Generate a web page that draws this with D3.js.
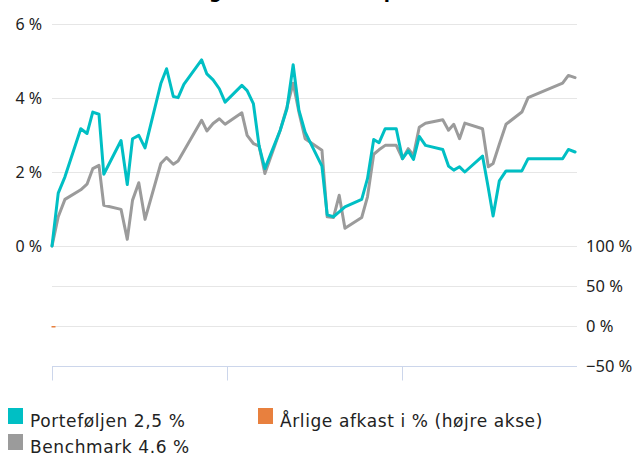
<!DOCTYPE html>
<html>
<head>
<meta charset="utf-8">
<script src="https://cdn.jsdelivr.net/npm/d3@7"></script>
<style>
  html, body { margin: 0; padding: 0; background: #fff; }
  svg { display: block; }
</style>
</head>
<body>
<svg id="chart" width="635" height="455"></svg>
<script>
// ---- data ----
const titleText = "Udvikling i afkast siden opstart";
const dates = [
  "2021-01-01","2021-01-14","2021-01-28","2021-03-02","2021-03-15","2021-03-27","2021-04-09","2021-04-19",
  "2021-05-25","2021-06-07","2021-06-18","2021-07-01","2021-07-14","2021-08-16","2021-08-28","2021-09-11",
  "2021-09-21","2021-10-03","2021-11-09","2021-11-20","2021-12-03","2021-12-16","2021-12-28","2022-02-01",
  "2022-02-12","2022-02-25","2022-03-09","2022-03-21","2022-04-22","2022-05-06","2022-05-19","2022-05-31",
  "2022-06-13","2022-07-18","2022-07-29","2022-08-11","2022-08-23","2022-09-04","2022-10-09","2022-10-21",
  "2022-11-03","2022-11-14","2022-11-27","2022-12-20","2023-01-02","2023-01-14","2023-01-25","2023-02-06",
  "2023-02-19","2023-03-27","2023-04-08","2023-04-19","2023-05-01","2023-05-12","2023-06-18","2023-06-30",
  "2023-07-10","2023-07-23","2023-08-06","2023-09-08","2023-09-21","2023-12-02","2023-12-14","2023-12-28"
];
const portfolio = [
  0, 1.43, 1.87, 3.17, 3.04, 3.62, 3.56, 1.94,
  2.85, 1.66, 2.90, 2.99, 2.65, 4.39, 4.79, 4.04,
  4.01, 4.37, 5.03, 4.65, 4.49, 4.25, 3.89, 4.34,
  4.20, 3.85, 2.70, 2.09, 3.13, 3.71, 4.90, 3.67,
  3.08, 2.16, 0.84, 0.79, 0.92, 1.06, 1.26, 1.82,
  2.88, 2.79, 3.17, 3.17, 2.36, 2.57, 2.34, 2.96,
  2.72, 2.61, 2.16, 2.05, 2.14, 2.00, 2.43, 1.57,
  0.81, 1.76, 2.03, 2.03, 2.36, 2.36, 2.61, 2.54
];
const benchmark = [
  0, 0.79, 1.26, 1.52, 1.67, 2.09, 2.18, 1.10,
  0.99, 0.18, 1.24, 1.71, 0.72, 2.23, 2.39, 2.21,
  2.30, 2.57, 3.40, 3.11, 3.31, 3.44, 3.29, 3.60,
  2.99, 2.77, 2.70, 1.96, 3.13, 3.75, 4.40, 3.62,
  2.90, 2.59, 0.79, 0.77, 1.37, 0.48, 0.77, 1.33,
  2.48, 2.60, 2.72, 2.72, 2.36, 2.63, 2.45, 3.21,
  3.32, 3.41, 3.13, 3.29, 2.90, 3.32, 3.17, 2.14,
  2.23, 2.75, 3.29, 3.62, 4.01, 4.40, 4.61, 4.55
];
const annualDates = ["2021-01-01"];
const annualReturns = [-1.6];
const leftTicks = [0, 2, 4, 6];
const rightTicks = [-50, 0, 50, 100];
const xTickDates = ["2021-01-01", "2022-01-01", "2023-01-01"];
const xDomain = ["2021-01-01", "2024-01-01"];
const legendItems = [
  { label: "Porteføljen 2,5 %", color: "#00bfc4" },
  { label: "Årlige afkast i % (højre akse)", color: "#e8803e" },
  { label: "Benchmark 4.6 %", color: "#9b9b9b" }
];

// ---- chart ----
const parse = d3.utcParse("%Y-%m-%d");
const svg = d3.select("#chart");
const left = 52, right = 577;
const x = d3.scaleUtc().domain(xDomain.map(parse)).range([left, right]);
const yL = d3.scaleLinear().domain([0, 6]).range([246, 24]);
const yR = d3.scaleLinear().domain([-50, 100]).range([366, 246]);

const labelFont = "'Noto Sans', 'Open Sans', sans-serif";

// title (mostly cut off at top)
svg.append("text")
  .attr("x", 286).attr("y", -2)
  .attr("text-anchor", "middle")
  .style("font-family", "'DejaVu Sans', Verdana, sans-serif")
  .style("font-weight", "bold")
  .style("font-size", "18px")
  .attr("fill", "#000")
  .text(titleText);

// left grid + labels
const gL = svg.append("g");
gL.selectAll("line").data(leftTicks).join("line")
  .attr("x1", left).attr("x2", right)
  .attr("y1", d => Math.round(yL(d)) + 0.5).attr("y2", d => Math.round(yL(d)) + 0.5)
  .attr("stroke", "#e6e6e6").attr("stroke-width", 1);
gL.selectAll("text").data(leftTicks).join("text")
  .attr("x", 42).attr("y", d => yL(d)).attr("dy", "0.35em")
  .attr("text-anchor", "end")
  .style("font-family", labelFont).style("font-size", "16px")
  .attr("fill", "#222")
  .text(d => d + " %");

// right grid + labels
const gR = svg.append("g");
gR.selectAll("line").data(rightTicks.filter(d => d > -50)).join("line")
  .attr("x1", left).attr("x2", right)
  .attr("y1", d => Math.round(yR(d)) + 0.5).attr("y2", d => Math.round(yR(d)) + 0.5)
  .attr("stroke", "#e6e6e6").attr("stroke-width", 1);
gR.selectAll("text").data(rightTicks).join("text")
  .attr("x", 586).attr("y", d => yR(d)).attr("dy", "0.35em")
  .attr("text-anchor", "start")
  .style("font-family", labelFont).style("font-size", "16.5px")
  .attr("fill", "#222")
  .text(d => (d < 0 ? "\u2212" + Math.abs(d) : d) + " %");

// x axis (bottom of lower pane)
const xAxis = d3.axisBottom(x).tickValues(xTickDates.map(parse)).tickSize(14).tickFormat("");
const gx = svg.append("g").attr("transform", `translate(0,${Math.round(yR(-50)) + 0.5})`).call(xAxis);
gx.select(".domain").attr("stroke", "#ccd6eb").attr("d", `M${left},0H${right}`);
gx.selectAll(".tick line").attr("stroke", "#ccd6eb");

// annual return bars
const barW = 4;
svg.append("g").selectAll("rect").data(annualDates).join("rect")
  .attr("x", d => x(parse(d)) - 0.5)
  .attr("width", barW)
  .attr("y", (d, i) => Math.min(yR(0), yR(annualReturns[i])))
  .attr("height", (d, i) => Math.max(1.5, Math.abs(yR(annualReturns[i]) - yR(0))))
  .attr("fill", "#e8803e");

// lines
const line = d3.line().x(d => x(d[0])).y(d => yL(d[1])).curve(d3.curveLinear);
const series = [
  { values: benchmark, color: "#9b9b9b" },
  { values: portfolio, color: "#00bfc4" }
];
svg.append("g").selectAll("path").data(series).join("path")
  .attr("d", s => line(dates.map((d, i) => [parse(d), s.values[i]])))
  .attr("fill", "none")
  .attr("stroke", s => s.color)
  .attr("stroke-width", 3)
  .attr("stroke-linejoin", "round")
  .attr("stroke-linecap", "round");

// legend
const legendPos = [[8, 408], [258, 408], [8, 434]];
const lg = svg.append("g");
legendItems.forEach((it, i) => {
  const [lx, ly] = legendPos[i];
  lg.append("rect").attr("x", lx).attr("y", ly).attr("width", 15).attr("height", 16).attr("fill", it.color);
  lg.append("text").attr("x", lx + 22).attr("y", ly + 19)
    .style("font-family", "'DejaVu Sans', Verdana, sans-serif")
    .style("font-size", "17px")
    .style("letter-spacing", "0.6px")
    .attr("fill", "#222")
    .text(it.label);
});
</script>
</body>
</html>
